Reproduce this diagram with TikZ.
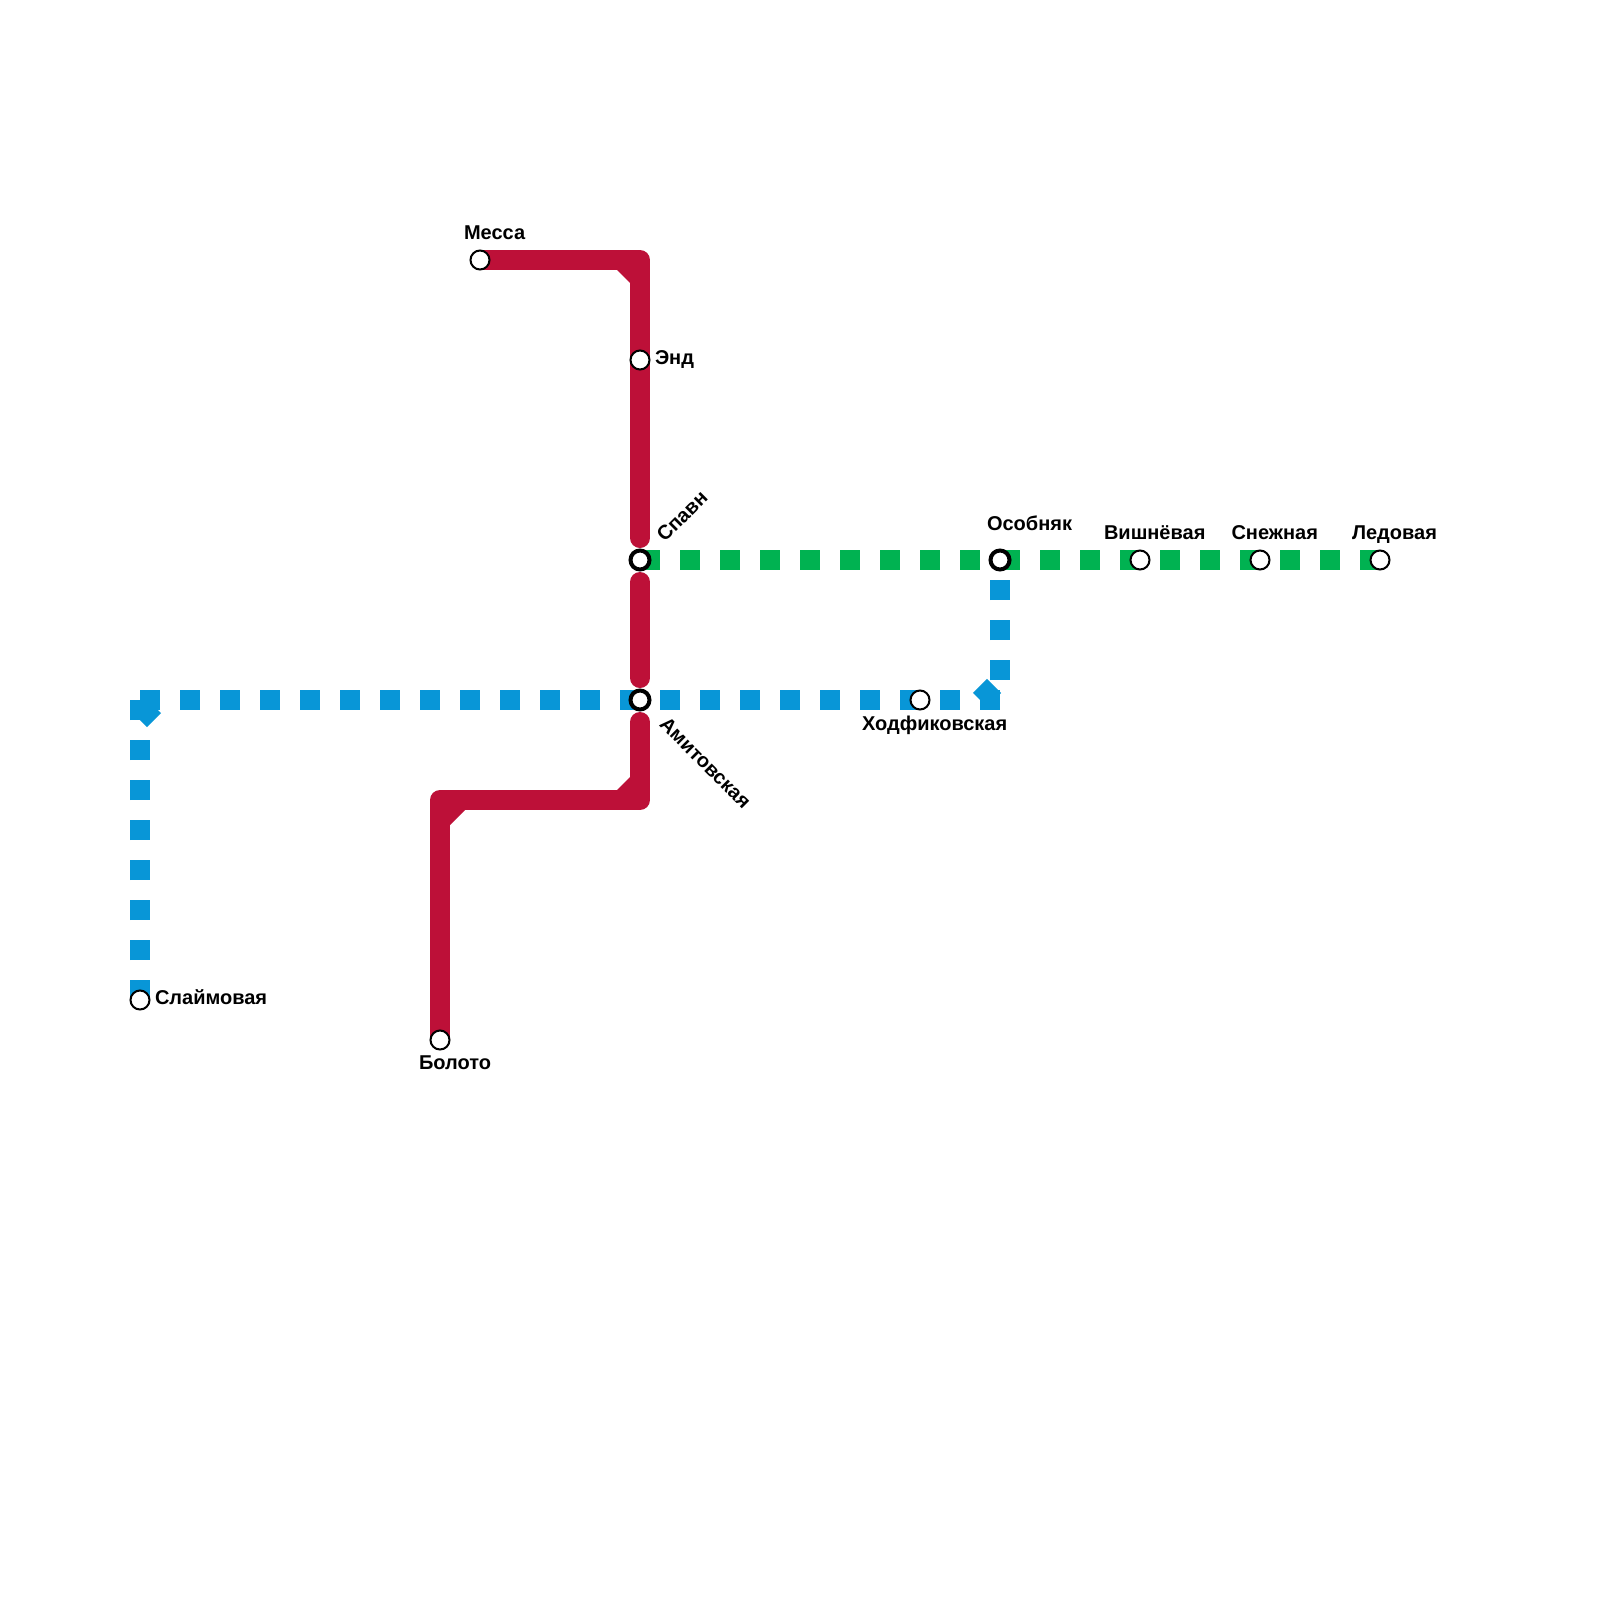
\documentclass[tikz,border=0pt]{standalone}
\usepackage{fontspec}
\setmainfont{Liberation Sans}
\usetikzlibrary{backgrounds}
\definecolor{redline}{HTML}{BD1038}
\definecolor{greenline}{HTML}{00B251}
\definecolor{blueline}{HTML}{0896D7}
\tikzset{
  stationmark/.style={circle,draw=black,fill=white,line width=1pt,minimum size=9.5pt,inner sep=0pt,outer sep=0pt},
  hubmark/.style={circle,draw=black,fill=white,line width=2pt,minimum size=9.5pt,inner sep=0pt,outer sep=0pt},
  lbl/.style={font=\bfseries\fontsize{10}{12}\selectfont,text=black,inner sep=0pt,outer sep=0pt,anchor=base west},
  solidred/.style={draw=redline,line width=10pt,line cap=round,line join=round},
  dashgreen/.style={draw=greenline,line width=10pt,dash pattern=on 10pt off 10pt},
  dashblue/.style={draw=blueline,line width=10pt,dash pattern=on 10pt off 10pt},
  elbowblue/.style={draw=blueline,line width=10pt},
}
\begin{document}
\begin{tikzpicture}[x=0.5pt,y=-0.5pt]
\useasboundingbox (0,0) rectangle (1600,1600);

% stations
\node[stationmark] (messa) at (480,260) {};
\node[stationmark] (end) at (640,360) {};
\node[hubmark] (slavn) at (640,560) {};
\node[hubmark] (amit) at (640,700) {};
\node[stationmark] (boloto) at (440,1040) {};
\node[stationmark] (slaim) at (140,1000) {};
\node[stationmark] (hodf) at (920,700) {};
\node[hubmark] (osob) at (1000,560) {};
\node[stationmark] (vish) at (1140,560) {};
\node[stationmark] (snezh) at (1260,560) {};
\node[stationmark] (led) at (1380,560) {};

% bends
\coordinate (rtop) at (640,260);
\coordinate (rmid) at (640,800);
\coordinate (rlow) at (440,800);
\coordinate (bcl) at (140,700);
\coordinate (bcr) at (1000,700);
\coordinate (bdla) at (140,720);
\coordinate (bdlb) at (154,706);
\coordinate (bdra) at (980,700);
\coordinate (bdrb) at (994,686);

\begin{scope}[on background layer]
  \fill[white] (0,0) rectangle (1600,1600);
  \draw[solidred,shorten >=11pt] (messa.center) -- (rtop) -- (slavn.center);
  \draw[solidred,shorten <=11pt,shorten >=11pt] (slavn.center) -- (amit.center);
  \draw[solidred,shorten <=11pt] (amit.center) -- (rmid) -- (rlow) -- (boloto.center);
  \fill[redline] (617,270) -- (630,270) -- (630,283) -- cycle;
  \fill[redline] (617,790) -- (630,790) -- (630,777) -- cycle;
  \fill[redline] (465,810) -- (450,810) -- (450,825) -- cycle;

  \draw[dashgreen] (slavn.center) -- (osob.center) -- (vish.center) -- (snezh.center) -- (led.center);

  \draw[dashblue] (slaim.center) -- (bcl);
  \draw[dashblue] (bcl) -- (bcr);
  \draw[dashblue,dash phase=10pt] (bcr) -- (osob.center);
  \draw[elbowblue] (bdla) -- (bdlb);
  \draw[elbowblue] (bdra) -- (bdrb);
\end{scope}

% labels
\node[lbl] (lmessa) at (464,239) {Месса};
\node[lbl] (lend) at (655,364.5) {Энд};
\node[lbl,anchor=center,rotate=45] (lslavn) at (682,516) {Спавн};
\node[lbl,anchor=center,rotate=-45] (lamit) at (705.5,763) {Амитовская};
\node[lbl] (losob) at (987,530) {Особняк};
\node[lbl] (lvish) at (1104,539.5) {Вишнёвая};
\node[lbl] (lsnezh) at (1231.5,539.5) {Снежная};
\node[lbl] (lled) at (1352,539.5) {Ледовая};
\node[lbl] (lhodf) at (862,730) {Ходфиковская};
\node[lbl] (lslaim) at (155,1004) {Слаймовая};
\node[lbl] (lboloto) at (419,1069.5) {Болото};
\end{tikzpicture}
\end{document}
